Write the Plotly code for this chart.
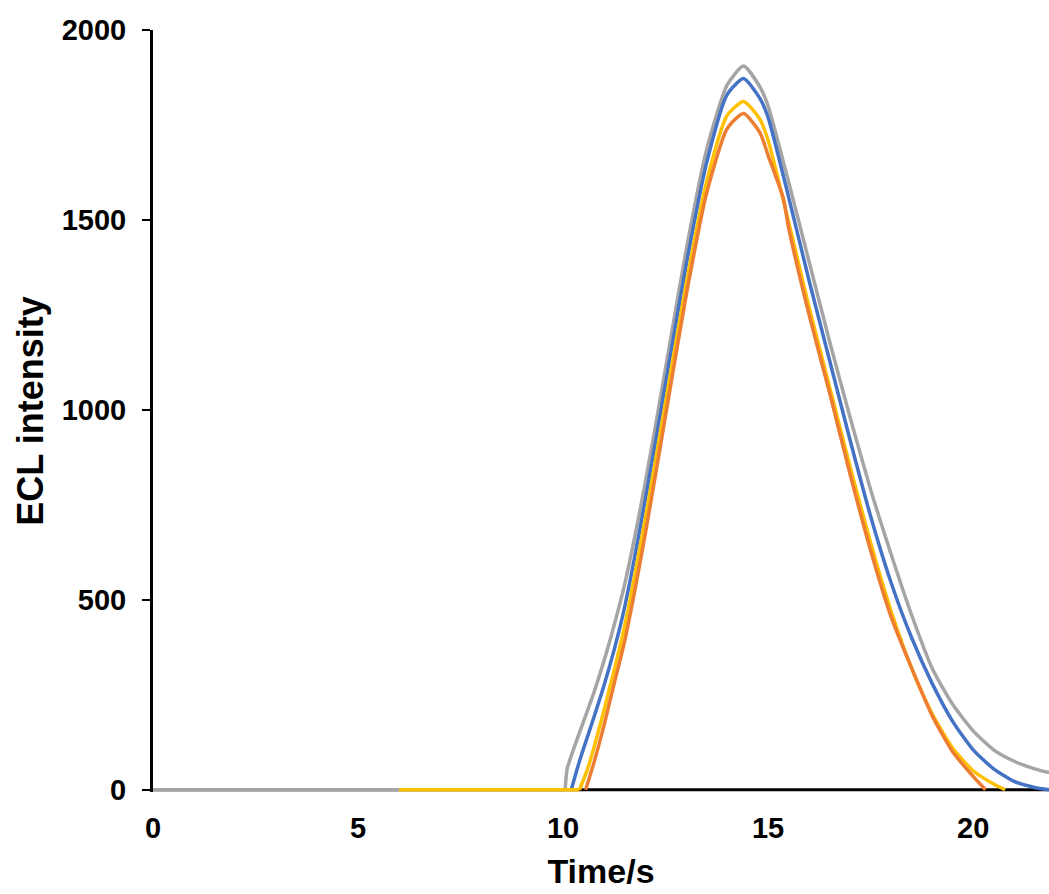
import plotly.graph_objects as go

# Gray series
gray_t = [0, 10.05, 10.1, 10.3, 10.5, 10.75, 11.0, 11.25, 11.5, 12.0, 12.5, 13.0, 13.5, 14.0, 14.4, 14.8,
          15.0, 15.5, 16.0, 16.5, 17.0, 17.5, 18.0, 18.5, 19.0, 19.5, 20.0, 20.5, 21.0, 21.5, 21.85]
gray_v = [0, 0, 55, 120, 180, 255, 340, 435, 540, 805, 1110, 1420, 1685, 1855, 1905, 1850,
          1800, 1600, 1390, 1180, 980, 790, 620, 460, 320, 225, 155, 105, 75, 55, 45]

# Blue series
blue_t = [10.2, 10.4, 10.75, 11.0, 11.25, 11.5, 12.0, 12.5, 13.0, 13.5, 14.0, 14.4, 14.8,
          15.0, 15.5, 16.0, 16.5, 17.0, 17.5, 18.0, 18.5, 19.0, 19.5, 20.0, 20.5, 21.0, 21.5, 21.85]
blue_v = [0, 75, 190, 275, 370, 480, 760, 1070, 1380, 1650, 1830, 1872, 1820,
          1770, 1560, 1340, 1130, 920, 720, 545, 400, 280, 180, 105, 55, 22, 6, 0]

# Yellow series
yellow_t = [6.0, 10.4, 10.6, 10.75, 11.0, 11.5, 12.0, 12.5, 13.0, 13.5, 14.0, 14.4, 14.8,
            15.0, 15.5, 16.0, 16.5, 17.0, 17.5, 18.0, 18.5, 19.0, 19.5, 20.0, 20.5, 20.78]
yellow_v = [0, 0, 55, 110, 210, 430, 710, 1020, 1330, 1600, 1775, 1812, 1765,
            1710, 1495, 1270, 1060, 850, 650, 470, 320, 200, 110, 50, 15, 0]

# Orange series
orange_t = [10.55, 10.75, 11.0, 11.27, 11.5, 12.0, 12.5, 13.0, 13.5, 14.0, 14.4, 14.8,
            15.0, 15.37, 15.5, 16.0, 16.5, 17.0, 17.5, 18.0, 18.5, 19.0, 19.5, 20.0, 20.3]
orange_v = [0, 70, 170, 290, 390, 670, 985, 1300, 1570, 1740, 1780, 1730,
            1670, 1557, 1480, 1250, 1045, 830, 630, 455, 320, 195, 100, 35, 0]

x_ticks = [0, 5, 10, 15, 20]
y_ticks = [0, 500, 1000, 1500, 2000]

series = [
    (gray_t, gray_v, "#A5A5A5"),
    (blue_t, blue_v, "#4472C4"),
    (yellow_t, yellow_v, "#FFC000"),
    (orange_t, orange_v, "#ED7D31"),
]

fig = go.Figure()
for t, v, c in series:
    # flat leading baseline (drawn straight), then the smooth peak
    k = 0
    while k + 1 < len(v) and v[k + 1] == 0:
        k += 1
    if k > 0:
        fig.add_trace(go.Scatter(x=t[:k + 1], y=v[:k + 1], mode="lines",
                                 line=dict(color=c, width=3.5),
                                 showlegend=False, hoverinfo="skip"))
    fig.add_trace(go.Scatter(x=t[k:], y=v[k:], mode="lines",
                             line=dict(color=c, width=3.5, shape="spline", smoothing=0.6),
                             showlegend=False, hoverinfo="skip"))

# x-axis line at y = 0, drawn beneath the traces
fig.add_shape(type="line", xref="paper", x0=0, x1=1, yref="y", y0=0, y1=0,
              line=dict(color="black", width=3), layer="below")

font_fam = "Liberation Sans, Arial, sans-serif"
fig.update_layout(
    width=1049, height=894,
    margin=dict(l=153, r=0, t=30, b=102),
    paper_bgcolor="white", plot_bgcolor="white",
    font=dict(family=font_fam, color="black"),
)
fig.update_xaxes(
    range=[0, 21.85], tickvals=x_ticks, ticks="", showgrid=False, zeroline=False,
    showline=False,
    tickfont=dict(size=29, weight="bold", family=font_fam),
    ticklabelstandoff=16,
    title=dict(text="Time/s", font=dict(size=34, weight="bold", family=font_fam), standoff=16),
)
fig.update_yaxes(
    range=[-6, 2000], tickvals=y_ticks, ticks="outside", ticklen=8, tickwidth=2, tickcolor="black",
    showgrid=False, zeroline=False,
    showline=True, linecolor="black", linewidth=3,
    tickfont=dict(size=29, weight="bold", family=font_fam),
    ticklabelstandoff=10,
    title=dict(text="ECL intensity", font=dict(size=36, weight="bold", family=font_fam), standoff=8),
)

fig.write_html("out.html")
